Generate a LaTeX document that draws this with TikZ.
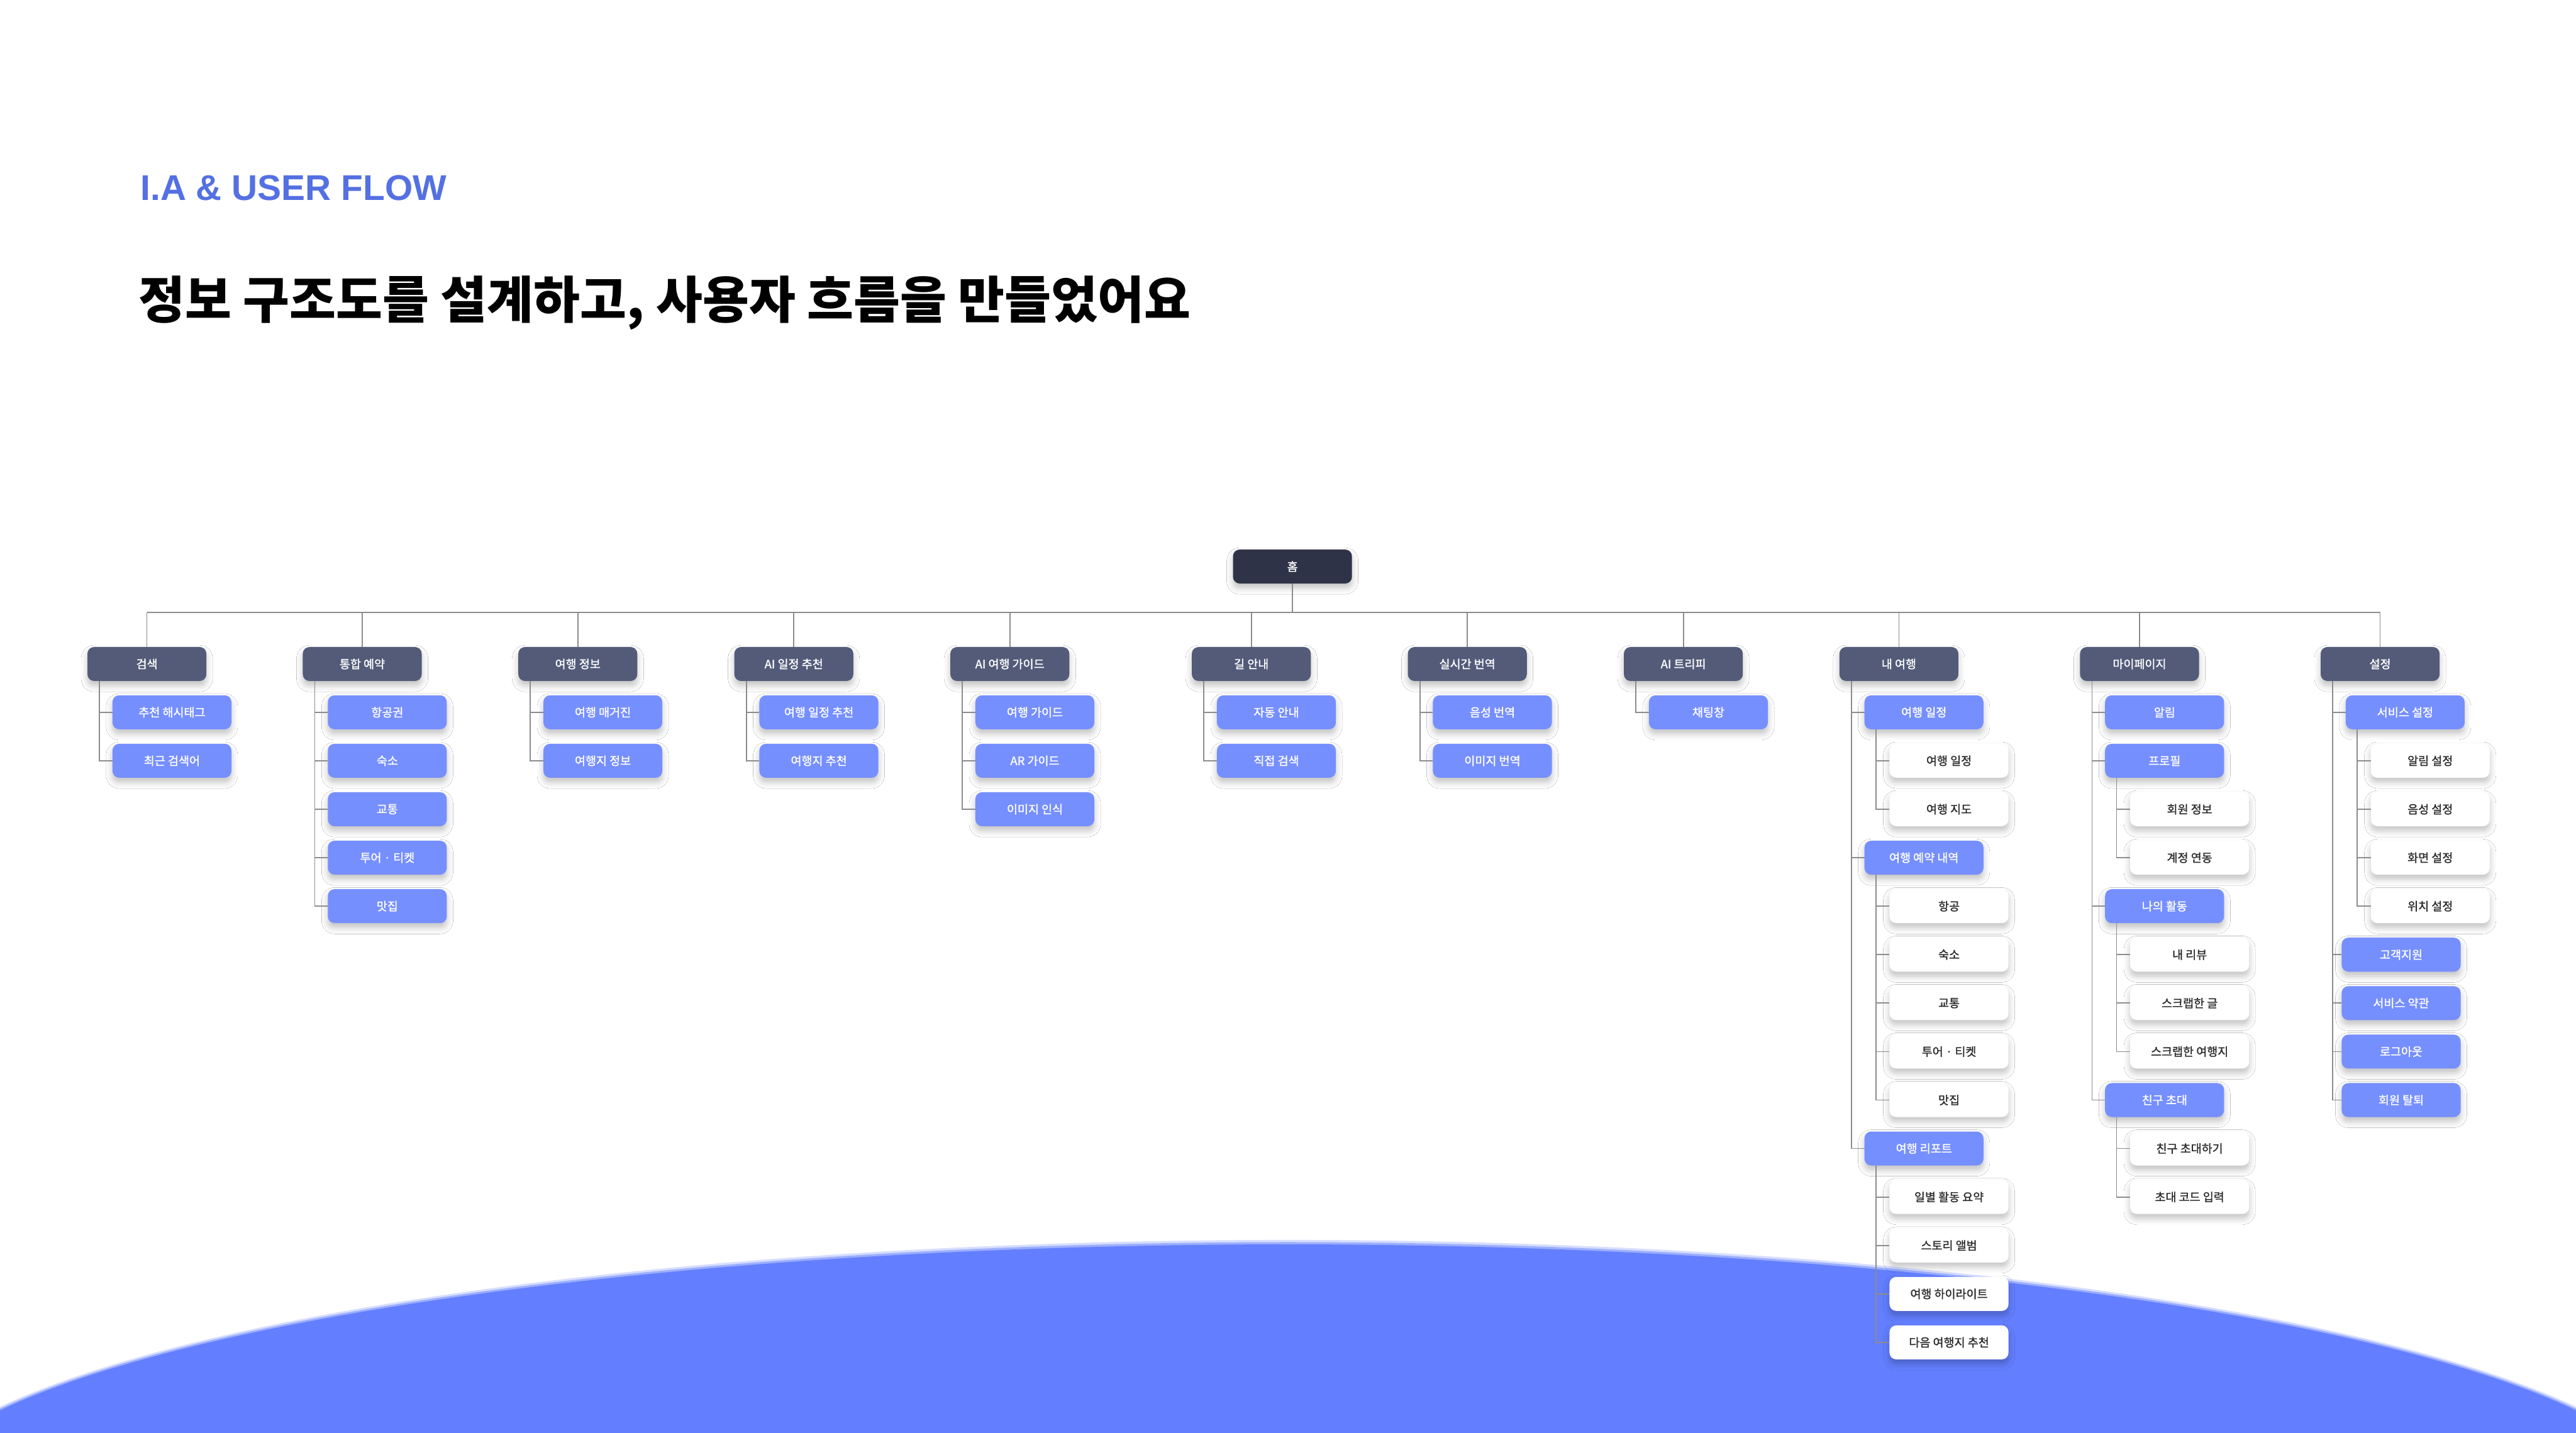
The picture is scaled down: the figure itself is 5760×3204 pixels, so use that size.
\documentclass[tikz,border=0pt]{standalone}
\usepackage{fontspec}
\setmainfont{Noto Sans CJK KR}
\newfontfamily\boxfont{Noto Sans CJK KR}[FakeBold=1.2]
\newfontfamily\latinfont{Liberation Sans}
\usetikzlibrary{shadows.blur}
\definecolor{darkbox}{HTML}{535B79}
\definecolor{homebox}{HTML}{2F3347}
\definecolor{bluebox}{HTML}{768FFF}
\definecolor{bgblue}{HTML}{637FFF}
\definecolor{iablue}{HTML}{5470E2}
\definecolor{linegray}{HTML}{8C8C8C}
\definecolor{inktext}{HTML}{2B2B2B}
\tikzset{
  boxbase/.style={rounded corners=15pt, minimum width=266pt, minimum height=76pt,
    inner sep=0pt, font=\boxfont\fontsize{26}{30}\selectfont,
    blur shadow={shadow xshift=0pt, shadow yshift=-10pt, shadow blur radius=14pt, shadow opacity=24}},
  homenode/.style={boxbase, fill=homebox, text=white},
  secnode/.style={boxbase, fill=darkbox, text=white},
  bluenode/.style={boxbase, fill=bluebox, text=white},
  whitenode/.style={boxbase, fill=white, text=inktext},
  conn/.style={draw=linegray, line width=2.5pt}
}
\begin{document}
\begin{tikzpicture}[x=1pt,y=-1pt]
\useasboundingbox (0,0) rectangle (5760,3204);
\fill[white] (0,0) rectangle (5760,3204);
\begin{scope}
\clip (0,0) rectangle (5760,3204);
\fill[bgblue, opacity=0.25] (2880,3373) ellipse [x radius=3110, y radius=600];
\fill[bgblue, opacity=0.5] (2880,3373) ellipse [x radius=3105, y radius=595];
\fill[bgblue] (2880,3373) ellipse [x radius=3100, y radius=590];
\end{scope}

% headings
\node[anchor=west, inner sep=0pt, text=iablue, font=\latinfont\bfseries\fontsize{80}{96}\selectfont] (ia) at (314,420.5) {I.A \& USER FLOW};
\node[anchor=west, inner sep=0pt, text=black, font=\bfseries\fontsize{113}{130}\selectfont] (title) at (310,678) {정보 구조도를 설계하고, 사용자 흐름을 만들었어요};

% root
\node[homenode] (home) at (2890,1267) {홈};

% sections
\node[secnode] (s1) at (328.5,1485) {검색};
\node[secnode] (s2) at (810,1485) {통합 예약};
\node[secnode] (s3) at (1292,1485) {여행 정보};
\node[secnode] (s4) at (1775,1485) {AI 일정 추천};
\node[secnode] (s5) at (2258,1485) {AI 여행 가이드};
\node[secnode] (s6) at (2798,1485) {길 안내};
\node[secnode] (s7) at (3281,1485) {실시간 번역};
\node[secnode] (s8) at (3764,1485) {AI 트리피};
\node[secnode] (s9) at (4246,1485) {내 여행};
\node[secnode] (s10) at (4784,1485) {마이페이지};
\node[secnode] (s11) at (5322,1485) {설정};

% 검색
\node[bluenode] (a1) at (384.5,1593) {추천 해시태그};
\node[bluenode] (a2) at (384.5,1701.4) {최근 검색어};
% 통합 예약
\node[bluenode] (b1) at (866,1593) {항공권};
\node[bluenode] (b2) at (866,1701.4) {숙소};
\node[bluenode] (b3) at (866,1809.8) {교통};
\node[bluenode] (b4) at (866,1918.2) {투어 · 티켓};
\node[bluenode] (b5) at (866,2026.6) {맛집};
% 여행 정보
\node[bluenode] (c1) at (1348,1593) {여행 매거진};
\node[bluenode] (c2) at (1348,1701.4) {여행지 정보};
% AI 일정 추천
\node[bluenode] (d1) at (1831,1593) {여행 일정 추천};
\node[bluenode] (d2) at (1831,1701.4) {여행지 추천};
% AI 여행 가이드
\node[bluenode] (e1) at (2314,1593) {여행 가이드};
\node[bluenode] (e2) at (2314,1701.4) {AR 가이드};
\node[bluenode] (e3) at (2314,1809.8) {이미지 인식};
% 길 안내
\node[bluenode] (f1) at (2854,1593) {자동 안내};
\node[bluenode] (f2) at (2854,1701.4) {직접 검색};
% 실시간 번역
\node[bluenode] (g1) at (3337,1593) {음성 번역};
\node[bluenode] (g2) at (3337,1701.4) {이미지 번역};
% AI 트리피
\node[bluenode] (h1) at (3820,1593) {채팅창};

% 내 여행
\node[bluenode] (i1) at (4302,1593) {여행 일정};
\node[whitenode] (i2) at (4358,1701.4) {여행 일정};
\node[whitenode] (i3) at (4358,1809.8) {여행 지도};
\node[bluenode] (i4) at (4302,1918.2) {여행 예약 내역};
\node[whitenode] (i5) at (4358,2026.6) {항공};
\node[whitenode] (i6) at (4358,2135) {숙소};
\node[whitenode] (i7) at (4358,2243.4) {교통};
\node[whitenode] (i8) at (4358,2351.8) {투어 · 티켓};
\node[whitenode] (i9) at (4358,2460.2) {맛집};
\node[bluenode] (i10) at (4302,2568.6) {여행 리포트};
\node[whitenode] (i11) at (4358,2677) {일별 활동 요약};
\node[whitenode] (i12) at (4358,2785.4) {스토리 앨범};
\node[whitenode] (i13) at (4358,2893.8) {여행 하이라이트};
\node[whitenode] (i14) at (4358,3002.2) {다음 여행지 추천};

% 마이페이지
\node[bluenode] (j1) at (4840,1593) {알림};
\node[bluenode] (j2) at (4840,1701.4) {프로필};
\node[whitenode] (j3) at (4896,1809.8) {회원 정보};
\node[whitenode] (j4) at (4896,1918.2) {계정 연동};
\node[bluenode] (j5) at (4840,2026.6) {나의 활동};
\node[whitenode] (j6) at (4896,2135) {내 리뷰};
\node[whitenode] (j7) at (4896,2243.4) {스크랩한 글};
\node[whitenode] (j8) at (4896,2351.8) {스크랩한 여행지};
\node[bluenode] (j9) at (4840,2460.2) {친구 초대};
\node[whitenode] (j10) at (4896,2568.6) {친구 초대하기};
\node[whitenode] (j11) at (4896,2677) {초대 코드 입력};

% 설정
\node[bluenode] (k1) at (5378,1593) {서비스 설정};
\node[whitenode] (k2) at (5434,1701.4) {알림 설정};
\node[whitenode] (k3) at (5434,1809.8) {음성 설정};
\node[whitenode] (k4) at (5434,1918.2) {화면 설정};
\node[whitenode] (k5) at (5434,2026.6) {위치 설정};
\node[bluenode] (k6) at (5369,2135) {고객지원};
\node[bluenode] (k7) at (5369,2243.4) {서비스 약관};
\node[bluenode] (k8) at (5369,2351.8) {로그아웃};
\node[bluenode] (k9) at (5369,2460.2) {회원 탈퇴};

% connectors: root bus
\coordinate (bus) at (2890,1369.5);
\draw[conn] (home.south) -- (bus);
\draw[conn] (s1.north |- bus) -- (s11.north |- bus);
\foreach \s in {s1,s2,s3,s4,s5,s6,s7,s8,s9,s10,s11}
  \draw[conn] (\s.north |- bus) -- (\s.north);

% section to children
\foreach \p/\c in {s1/a1,s1/a2,s2/b1,s2/b2,s2/b3,s2/b4,s2/b5,s3/c1,s3/c2,s4/d1,s4/d2,
  s5/e1,s5/e2,s5/e3,s6/f1,s6/f2,s7/g1,s7/g2,s8/h1,s9/i1,s9/i4,s9/i10,
  s10/j1,s10/j2,s10/j5,s10/j9,s11/k1,s11/k6,s11/k7,s11/k8,s11/k9}
  \draw[conn] ([xshift=27pt]\p.south west) |- (\c.west);

% sub-children
\foreach \p/\c in {i1/i2,i1/i3,i4/i5,i4/i6,i4/i7,i4/i8,i4/i9,i10/i11,i10/i12,i10/i13,i10/i14,
  j2/j3,j2/j4,j5/j6,j5/j7,j5/j8,j9/j10,j9/j11,k1/k2,k1/k3,k1/k4,k1/k5}
  \draw[conn] ([xshift=26pt]\p.south west) |- (\c.west);
\end{tikzpicture}
\end{document}
